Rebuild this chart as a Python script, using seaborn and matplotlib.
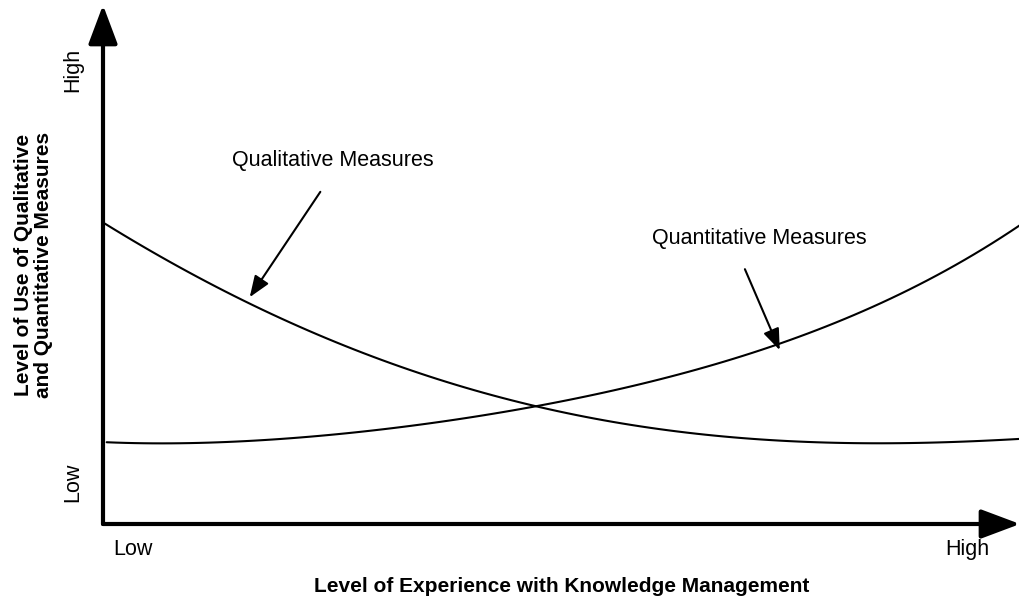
import numpy as np
import pandas as pd
import matplotlib
matplotlib.use("Agg")
import matplotlib.pyplot as plt
import seaborn as sns

# curve points (0-100 scale on both axes)
qual_x = [0.2, 3.3, 7.0, 10.6, 14.2, 17.9, 21.5, 25.1, 28.8, 32.4, 36.0, 39.7, 43.3,
          47.7, 51.3, 55.0, 58.6, 62.2, 65.9, 69.5, 73.8, 78.2, 83.6, 89.1, 94.5, 100]
qual_y = [58.0, 54.3, 50.5, 47.4, 44.5, 41.6, 37.8, 34.9, 32.2, 30.1, 28.1, 26.4, 24.5,
          22.8, 21.0, 19.7, 18.7, 17.9, 17.3, 16.8, 16.2, 15.8, 15.4, 15.4, 15.8, 16.6]

quant_x = [0.4, 10.6, 21.5, 32.4, 39.7, 43.3, 47.7, 56.4, 58.6, 71.6, 75.2, 79.0,
           82.6, 86.1, 89.9, 93.5, 97.1, 100]
quant_y = [15.6, 15.8, 17.0, 18.7, 20.0, 21.0, 22.8, 25.8, 27.7, 33.9, 35.8, 38.0,
           40.7, 43.5, 46.6, 50.3, 54.1, 58.0]

tick_labels = ["Low", "High"]
x_tick_pos = [3.3, 94.3]
y_tick_pos = [8.1, 87.5]

sns.set_theme(style="white")
plt.rcParams["font.family"] = ["Liberation Sans", "DejaVu Sans"]
plt.rcParams["text.color"] = "black"
plt.rcParams["axes.labelcolor"] = "black"
plt.rcParams["xtick.color"] = "black"
plt.rcParams["ytick.color"] = "black"

fig = plt.figure(figsize=(10.2, 6), dpi=100)
ax = fig.add_axes([103 / 1020, 76 / 600, 917 / 1020, 519 / 600])

# smooth curves: polynomial fit through the read points
line_kw = dict(color="black", linewidth=1.5)
sns.regplot(x=qual_x, y=qual_y, order=4, ci=None, scatter=False,
            line_kws=line_kw, ax=ax)
sns.regplot(x=quant_x, y=quant_y, order=4, ci=None, scatter=False,
            line_kws=line_kw, ax=ax)

ax.set_xlim(0, 100)
ax.set_ylim(0, 100)
for s in ax.spines.values():
    s.set_visible(False)

# axis arrows
arrow_kw = dict(arrowstyle="-|>,head_length=1.2,head_width=0.45", color="black",
                lw=3, mutation_scale=20, shrinkA=0, shrinkB=0)
ax.annotate("", xy=(0, 1), xytext=(0, 0), xycoords="axes fraction",
            arrowprops=arrow_kw, annotation_clip=False)
ax.annotate("", xy=(1, 0), xytext=(0, 0), xycoords="axes fraction",
            arrowprops=arrow_kw, annotation_clip=False)

ax.set_xticks(x_tick_pos, tick_labels)
ax.set_yticks(y_tick_pos, tick_labels)
ax.tick_params(axis="x", length=0, pad=11, labelsize=15.5)
ax.tick_params(axis="y", length=0, pad=14, labelsize=15.5)
for lab in ax.get_yticklabels():
    lab.set_rotation(90)
    lab.set_va("center")

ax.set_xlabel("Level of Experience with Knowledge Management",
              fontsize=15, fontweight="bold", labelpad=12)
ax.set_ylabel("Level of Use of Qualitative\nand Quantitative Measures",
              fontsize=15, fontweight="bold", linespacing=1.05)
ax.yaxis.set_label_coords(-0.055, 0.5)

# curve labels with pointer arrows
ptr_kw = dict(arrowstyle="-|>,head_length=0.65,head_width=0.25", color="black",
              lw=1.5, mutation_scale=20, shrinkA=0, shrinkB=0)
ax.text(25.1, 70.1, "Qualitative Measures", ha="center", va="center", fontsize=15.5)
ax.annotate("", xy=(16.0, 43.7), xytext=(23.7, 64.0), arrowprops=ptr_kw)
ax.text(71.6, 55.1, "Quantitative Measures", ha="center", va="center", fontsize=15.5)
ax.annotate("", xy=(73.8, 33.5), xytext=(70.0, 49.1), arrowprops=ptr_kw)

fig.savefig("out.png", dpi=100, facecolor="white")
